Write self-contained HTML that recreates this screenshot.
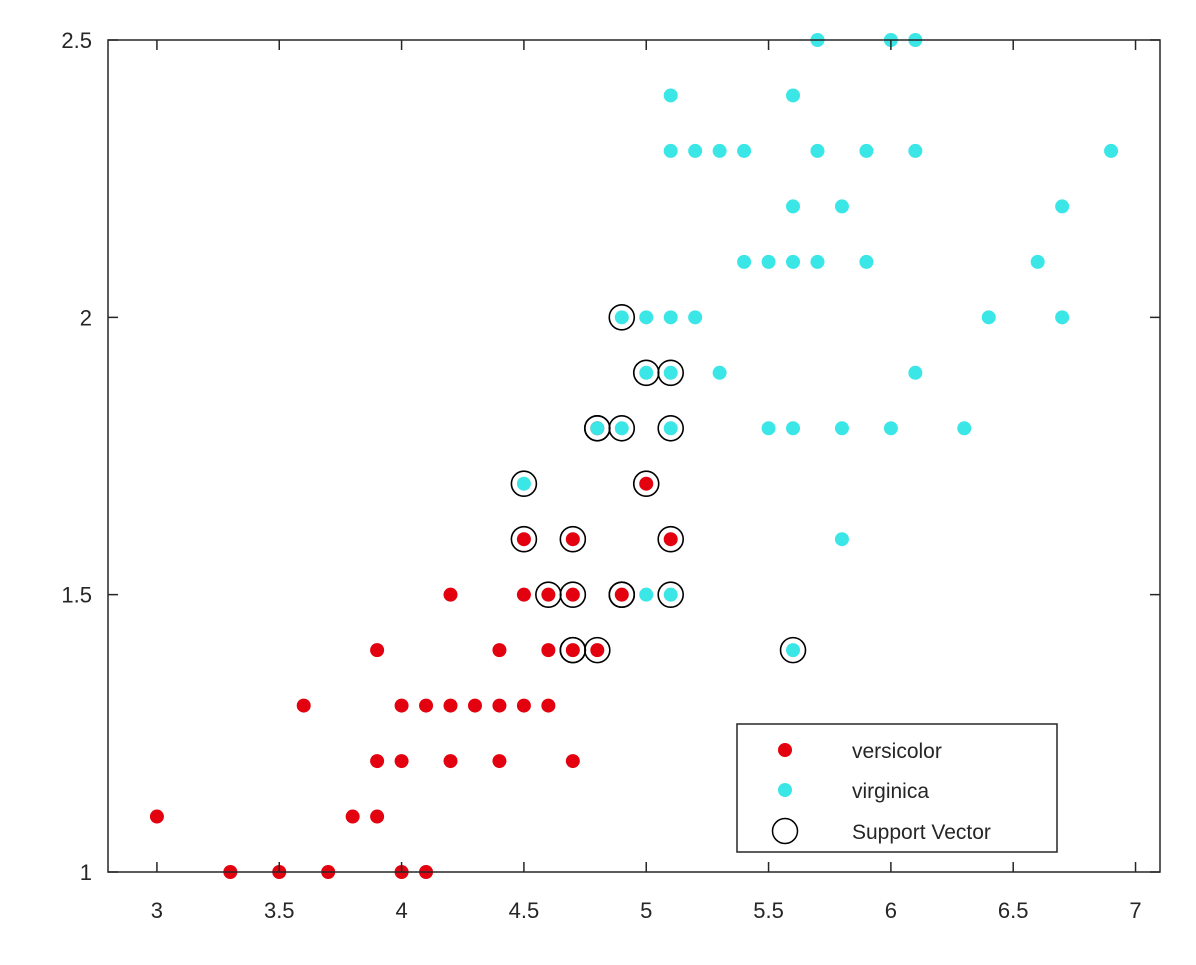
<!DOCTYPE html>
<html><head><meta charset="utf-8">
<style>
html,body{margin:0;padding:0;background:#fff;}
svg{display:block;font-family:"Liberation Sans",sans-serif;}
</style></head>
<body>
<svg id="chart" width="1196" height="965" viewBox="0 0 1196 965">
<rect x="0" y="0" width="1196" height="965" fill="#fff"/>
<g id="marks"></g>
<rect x="108" y="40" width="1052" height="832" fill="none" stroke="#262626" stroke-width="1.5"/>
<g id="axes"></g>
<g>
<rect x="737" y="724" width="320" height="128" fill="#fff" stroke="#262626" stroke-width="1.5"/>
<circle cx="785" cy="750" r="7" fill="#e3000f"/>
<text x="852" y="758" font-size="21" fill="#262626">versicolor</text>
<circle cx="785" cy="790" r="7" fill="#3ae6e6"/>
<text x="852" y="798" font-size="21" fill="#262626">virginica</text>
<circle cx="785" cy="831" r="12.5" fill="none" stroke="#000" stroke-width="1.5"/>
<text x="852" y="839" font-size="21" fill="#262626">Support Vector</text>
</g>
</svg>
<script>
const versicolorX=[3,3.3,3.5,3.7,4,4.1,3.8,3.9,3.9,4,4.2,4.4,4.7,3.6,4,4.1,4.2,4.3,4.4,4.5,4.6,3.9,4.4,4.6,4.7,4.8,4.2,4.5,4.6,4.7,4.9,4.5,4.7,5.1,5,4.8];
const versicolorY=[1.1,1,1,1,1,1,1.1,1.1,1.2,1.2,1.2,1.2,1.2,1.3,1.3,1.3,1.3,1.3,1.3,1.3,1.3,1.4,1.4,1.4,1.4,1.4,1.5,1.5,1.5,1.5,1.5,1.6,1.6,1.6,1.7,1.8];
const virginicaX=[5.6,5,5.1,5.8,4.5,4.8,4.9,5.1,5.5,5.6,5.8,6,6.3,5,5.1,5.3,6.1,4.9,5,5.1,5.2,6.4,6.7,5.4,5.5,5.6,5.7,5.9,6.6,5.6,5.8,6.7,5.1,5.2,5.3,5.4,5.7,5.9,6.1,6.9,5.1,5.6,5.7,6,6.1];
const virginicaY=[1.4,1.5,1.5,1.6,1.7,1.8,1.8,1.8,1.8,1.8,1.8,1.8,1.8,1.9,1.9,1.9,1.9,2,2,2,2,2,2,2.1,2.1,2.1,2.1,2.1,2.1,2.2,2.2,2.2,2.3,2.3,2.3,2.3,2.3,2.3,2.3,2.3,2.4,2.4,2.5,2.5,2.5];
const svX=[4.9,5,5.1,4.8,4.8,4.9,5.1,4.5,5,4.5,4.7,5.1,4.6,4.7,4.9,4.9,5.1,4.7,4.7,4.8,5.6];
const svY=[2,1.9,1.9,1.8,1.8,1.8,1.8,1.7,1.7,1.6,1.6,1.6,1.5,1.5,1.5,1.5,1.5,1.4,1.4,1.4,1.4];
const xTicks=[3,3.5,4,4.5,5,5.5,6,6.5,7];
const xTickLabels=["3","3.5","4","4.5","5","5.5","6","6.5","7"];
const yTicks=[1,1.5,2,2.5];
const yTickLabels=["1","1.5","2","2.5"];

const X0=2.8,X1=7.1,Y0=1,Y1=2.5,L=108,R=1160,T=40,B=872;
function sx(v){return L+(v-X0)/(X1-X0)*(R-L);}
function sy(v){return B-(v-Y0)/(Y1-Y0)*(B-T);}
const NS="http://www.w3.org/2000/svg";
const marks=document.getElementById('marks');
const axes=document.getElementById('axes');
function circ(x,y,r,fill,stroke,name){
  const c=document.createElementNS(NS,'circle');
  c.setAttribute('cx',sx(x));c.setAttribute('cy',sy(y));c.setAttribute('r',r);
  c.setAttribute('fill',fill);
  if(stroke){c.setAttribute('stroke',stroke);c.setAttribute('stroke-width','1.6');}
  
  
  marks.appendChild(c);
}
versicolorX.forEach((x,i)=>circ(x,versicolorY[i],7,'#e3000f',null,'versicolor-point'));
virginicaX.forEach((x,i)=>circ(x,virginicaY[i],7,'#3ae6e6',null,'virginica-point'));
svX.forEach((x,i)=>circ(x,svY[i],12.5,'none','#000','support-vector-ring'));

xTicks.forEach((v,i)=>{
  const px=sx(v);
  const l=document.createElementNS(NS,'path');
  l.setAttribute('d',`M${px},${B}V${B-10}M${px},${T}V${T+10}`);
  l.setAttribute('stroke','#262626');l.setAttribute('stroke-width','1.5');
  
  
  axes.appendChild(l);
  const t=document.createElementNS(NS,'text');
  t.setAttribute('x',px);t.setAttribute('y',B+46);t.setAttribute('text-anchor','middle');
  t.setAttribute('font-size','22');t.setAttribute('fill','#262626');
  t.textContent=xTickLabels[i];
  
  
  axes.appendChild(t);
});
yTicks.forEach((v,i)=>{
  const py=sy(v);
  const l=document.createElementNS(NS,'path');
  l.setAttribute('d',`M${L},${py}H${L+10}M${R},${py}H${R-10}`);
  l.setAttribute('stroke','#262626');l.setAttribute('stroke-width','1.5');
  
  
  axes.appendChild(l);
  const t=document.createElementNS(NS,'text');
  t.setAttribute('x',L-16);t.setAttribute('y',py+8);t.setAttribute('text-anchor','end');
  t.setAttribute('font-size','22');t.setAttribute('fill','#262626');
  t.textContent=yTickLabels[i];
  
  
  axes.appendChild(t);
});
</script>
</body></html>
